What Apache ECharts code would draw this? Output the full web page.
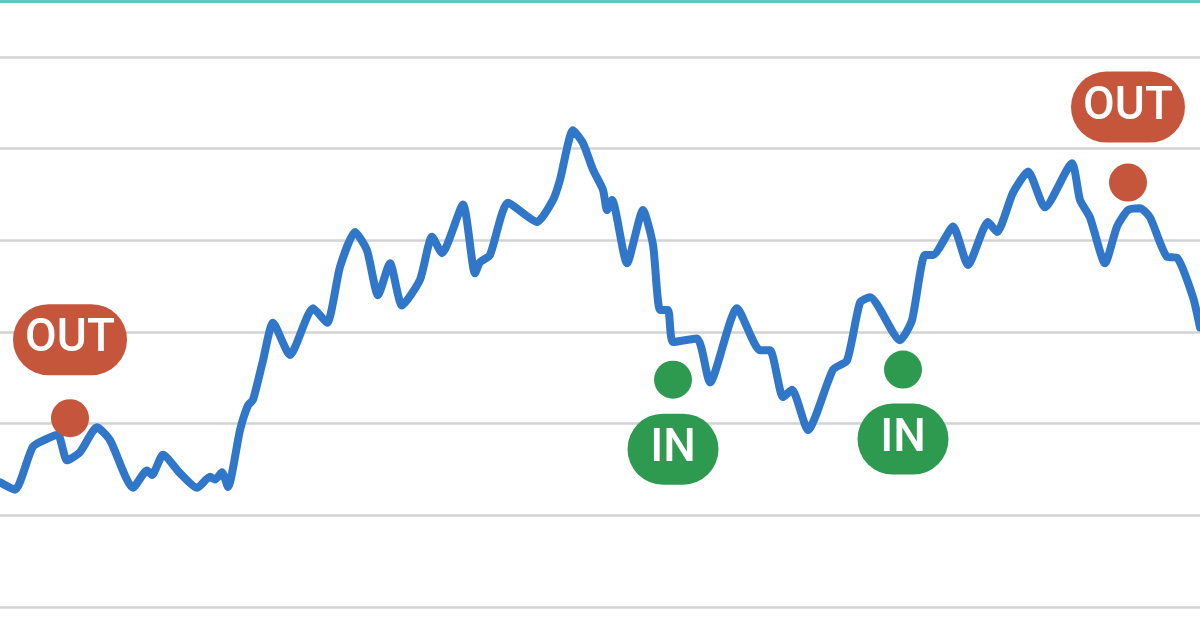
<!DOCTYPE html>
<html>
<head>
<meta charset="utf-8">
<script src="https://cdn.jsdelivr.net/npm/echarts@6/dist/echarts.min.js"></script>
<style>
  html, body { margin: 0; padding: 0; background: #ffffff; }
  #chart { width: 1200px; height: 628px; }
</style>
</head>
<body>
<div id="chart"></div>
<script>
// Time index (days) of each traced point
const days = [0,3.75,8.25,12.5,14.5,16.75,20,24.25,27.5,33.25,36.75,38,40.75,45,49.25,52.5,53.75,55.5,57,60,62,63.25,65.75,68.25,72.5,78.25,81.75,85,88.75,91.75,94.5,97.5,100.5,105,108,110.5,115.75,118.75,120,122.5,127,134.25,138.25,140,143.25,145.75,148.25,150.75,151.75,153,156.75,160.75,163.25,165,167,168.25,174.25,177.5,184.25,190,192.5,195.75,198,202,208.25,211.75,215,217.5,225,228,231.25,233.25,238.25,242,247,249.25,253.25,257,261.25,268,270,272.5,276.25,279.25,282,285,287.5,291.75,294.25,298.25,300];
// Price values
const prices = [13.6,12.8,17.5,18.5,18.8,16.0,16.9,19.6,18.2,13.0,14.9,14.4,16.6,14.6,13.0,14.2,13.9,14.7,13.1,19.3,22.0,22.6,26.9,31.0,27.5,32.6,31.0,37.1,40.9,38.9,34.0,37.5,32.9,35.7,40.4,38.6,43.9,36.4,37.6,38.4,44.1,42.0,44.4,46.6,52.0,50.6,47.7,45.5,43.3,44.4,37.5,43.3,39.5,32.4,32.4,28.9,29.3,24.5,32.6,28.0,28.0,22.9,23.7,19.3,25.9,26.9,33.2,33.8,29.1,31.3,38.4,38.4,41.5,37.3,42.0,40.9,45.2,47.5,43.6,48.4,44.4,42.5,37.5,41.5,43.3,43.5,42.5,38.2,38.1,33.8,30.5];
// Y axis tick values
const yTicks = [0,10,20,30,40,50,60];
// Signals
const signalDays   = [17.5, 168.25, 225.75, 282];
const signalValues = [20.6, 24.8, 25.9, 46.3];
const signalTypes  = ['OUT', 'IN', 'IN', 'OUT'];

const RED = '#C5553B';
const GREEN = '#2E9A50';

const lineData = days.map((d, i) => [d, prices[i]]);

const signalData = signalDays.map((d, i) => {
  const t = signalTypes[i];
  const isOut = t === 'OUT';
  const color = isOut ? RED : GREEN;
  return {
    value: [d, signalValues[i]],
    itemStyle: { color: color, opacity: 1 },
    label: {
      show: true,
      formatter: t,
      position: isOut ? 'top' : 'bottom',
      distance: isOut ? (i === 0 ? 24 : 21) : 15,
      color: '#ffffff',
      opacity: 1,
      fontFamily: 'Roboto',
      fontWeight: 500,
      fontSize: 46,
      backgroundColor: color,
      borderRadius: 36,
      width: isOut ? 114 : 91,
      height: 71,
      lineHeight: 71,
      padding: 0
    }
  };
});

const chart = echarts.init(document.getElementById('chart'), null, { renderer: 'canvas' });
chart.setOption({
  animation: false,
  backgroundColor: '#ffffff',
  grid: { left: 0, right: 0, top: 57, bottom: 21, containLabel: false },
  xAxis: {
    type: 'value', min: 0, max: 300,
    show: false,
    splitLine: { show: false }
  },
  yAxis: {
    type: 'value', min: yTicks[0], max: yTicks[yTicks.length - 1], interval: 10,
    axisLine: { show: false }, axisTick: { show: false }, axisLabel: { show: false },
    splitLine: { show: true, lineStyle: { color: '#d3d3d3', width: 2.5 } }
  },
  graphic: [{
    type: 'rect', left: 0, top: 0, z: 100,
    shape: { width: 1200, height: 3 },
    style: { fill: '#5CC8C0' }
  }],
  series: [
    {
      type: 'line',
      data: lineData,
      smooth: 0.2,
      showSymbol: false,
      lineStyle: { color: '#3077C9', width: 8, cap: 'round', join: 'round' },
      z: 2
    },
    {
      type: 'scatter',
      data: signalData,
      symbol: 'circle',
      symbolSize: 38,
      itemStyle: { opacity: 1 },
      z: 5,
      clip: false
    }
  ]
});
</script>
</body>
</html>
